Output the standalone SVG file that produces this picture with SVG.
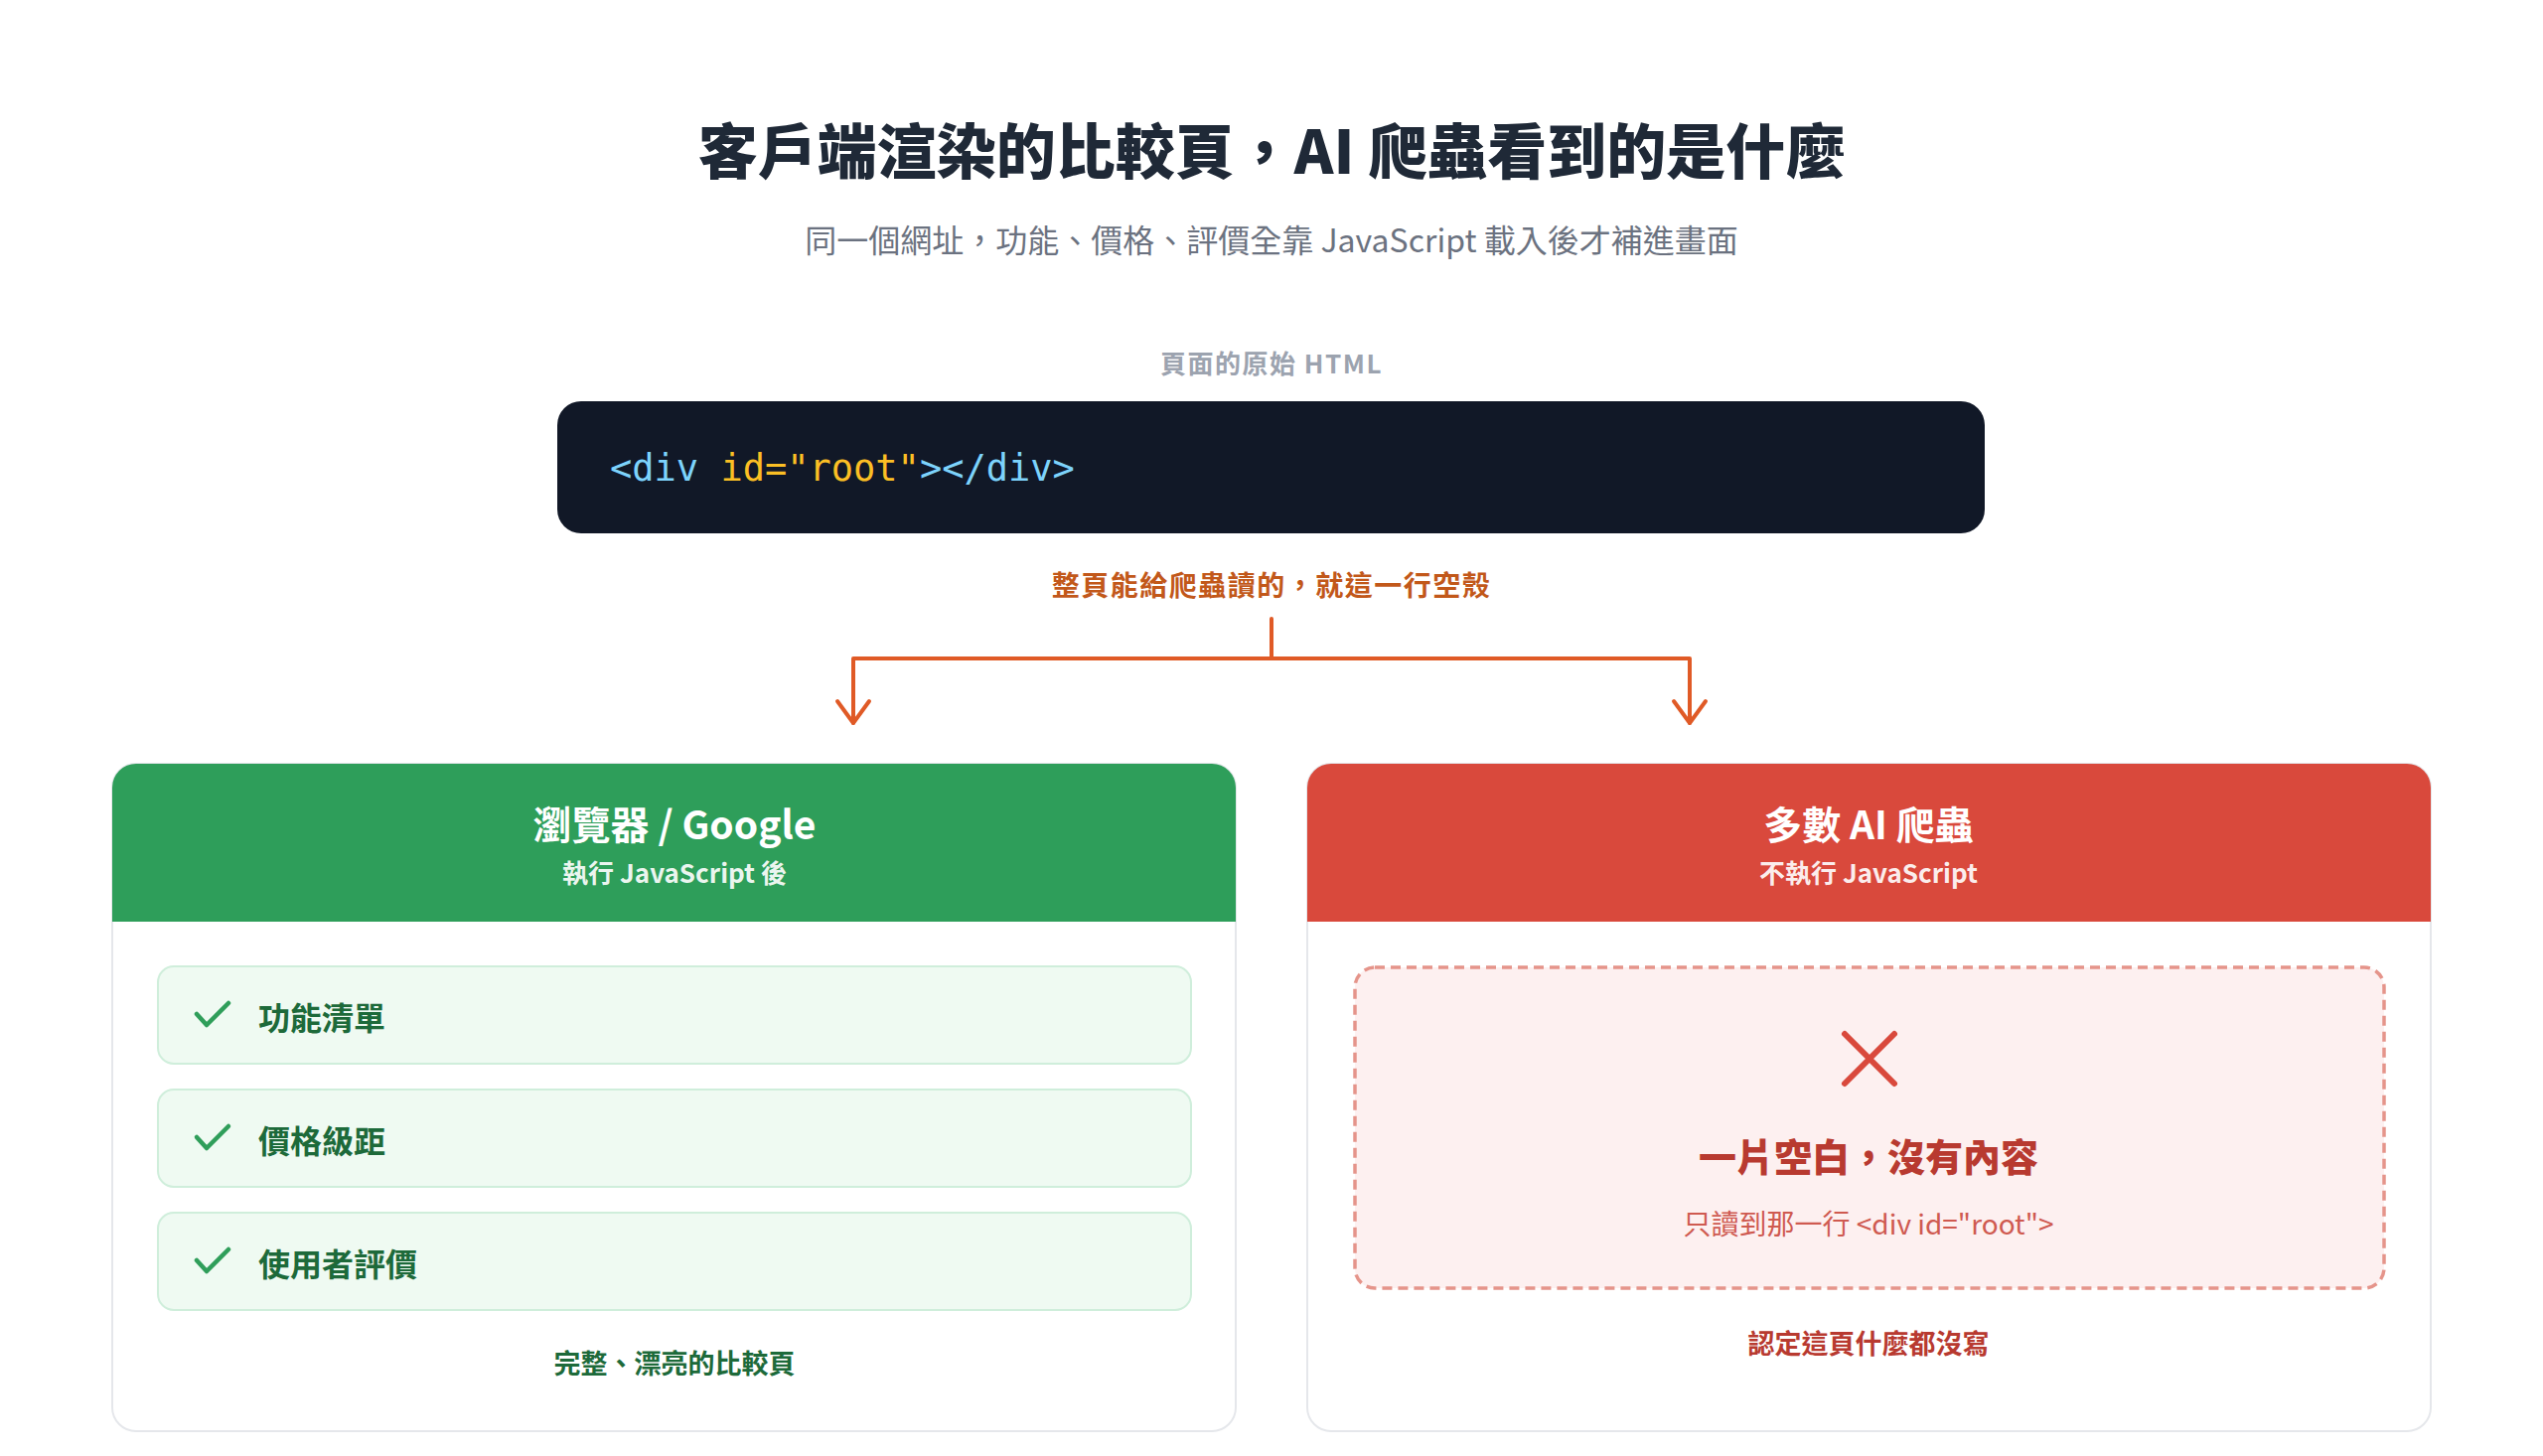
<svg xmlns="http://www.w3.org/2000/svg" width="2560" height="1466" viewBox="0 0 2560 1466">
<style>
text{font-family:"Noto Sans CJK TC","Noto Sans",sans-serif;}
.title{font-size:60px;font-weight:900;fill:#1f2937;text-anchor:middle;}
.sub{font-size:32px;font-weight:400;fill:#6b7280;text-anchor:middle;}
.lbl{font-size:26px;font-weight:700;fill:#9ca3af;text-anchor:middle;letter-spacing:1.5px;}
.code{font-family:"DejaVu Sans Mono","Liberation Mono",monospace;font-size:37px;}
.tag{fill:#7dd3fc;}
.attr{fill:#fbbf24;}
.note{font-size:28px;font-weight:700;fill:#c2581a;text-anchor:middle;letter-spacing:1.5px;}
.card{fill:#ffffff;stroke:#e5e7eb;stroke-width:2;}
.htitle{font-size:39px;font-weight:700;fill:#ffffff;text-anchor:middle;}
.hsub{font-size:26px;font-weight:700;fill:#ffffff;fill-opacity:0.92;text-anchor:middle;}
.item{fill:#effaf2;stroke:#cfeedb;stroke-width:2;}
.itxt{font-size:32px;font-weight:700;fill:#1d6a3a;}
.check{fill:none;stroke:#2f9e5a;stroke-width:4.5;stroke-linecap:round;stroke-linejoin:round;}
.gfoot{font-size:27px;font-weight:700;fill:#1d6a3a;text-anchor:middle;}
.rfoot{font-size:27px;font-weight:700;fill:#b83a30;text-anchor:middle;}
.conn{fill:none;stroke:#e05a26;stroke-width:4;stroke-linecap:round;stroke-linejoin:round;}
</style>
<rect width="2560" height="1466" fill="#ffffff"/>

<g id="header">
<text class="title" x="1280" y="175">客戶端渲染的比較頁，AI 爬蟲看到的是什麼</text>
<text class="sub" x="1280" y="254">同一個網址，功能、價格、評價全靠 JavaScript 載入後才補進畫面</text>
</g>

<g id="html-source">
<text class="lbl" x="1280" y="376">頁面的原始 HTML</text>
<rect x="561" y="404" width="1437" height="133" rx="24" fill="#111827"/>
<text class="code" x="614" y="484"><tspan class="tag">&lt;div</tspan><tspan class="attr"> id="root"</tspan><tspan class="tag">&gt;&lt;/div&gt;</tspan></text>
<text class="note" x="1280" y="600">整頁能給爬蟲讀的，就這一行空殼</text>
</g>

<g id="connectors">
<path class="conn" d="M1280 623 V663 M859 663 H1701 M859 663 V728 M1701 663 V728"/>
<path class="conn" d="M843 706 L859 728 L875 706"/>
<path class="conn" d="M1685 706 L1701 728 L1717 706"/>
</g>

<g id="browser-card">
<rect class="card" x="113" y="769" width="1131" height="672" rx="24"/>
<path d="M113 793 A24 24 0 0 1 137 769 H1220 A24 24 0 0 1 1244 793 V928 H113 Z" fill="#2e9e5a"/>
<text class="htitle" x="679" y="845">瀏覽器 / Google</text>
<text class="hsub" x="679" y="889">執行 JavaScript 後</text>
<g id="item-features">
<rect class="item" x="159" y="973" width="1040" height="98" rx="16"/>
<path class="check" d="M198 1021 L208 1032 L230 1010"/>
<text class="itxt" x="260" y="1037">功能清單</text>
</g>
<g id="item-price">
<rect class="item" x="159" y="1097" width="1040" height="98" rx="16"/>
<path class="check" d="M198 1145 L208 1156 L230 1134"/>
<text class="itxt" x="260" y="1161">價格級距</text>
</g>
<g id="item-reviews">
<rect class="item" x="159" y="1221" width="1040" height="98" rx="16"/>
<path class="check" d="M198 1269 L208 1280 L230 1258"/>
<text class="itxt" x="260" y="1285">使用者評價</text>
</g>
<text class="gfoot" x="679" y="1383">完整、漂亮的比較頁</text>
</g>

<g id="ai-card">
<rect class="card" x="1316" y="769" width="1131" height="672" rx="24"/>
<path d="M1316 793 A24 24 0 0 1 1340 769 H2423 A24 24 0 0 1 2447 793 V928 H1316 Z" fill="#d9493c"/>
<text class="htitle" x="1881" y="845">多數 AI 爬蟲</text>
<text class="hsub" x="1881" y="889">不執行 JavaScript</text>
<g id="empty-box">
<rect x="1364" y="974" width="1036" height="323" rx="20" fill="#fdf0f0" stroke="#e5948a" stroke-width="3.5" stroke-dasharray="10 6"/>
<path d="M1857 1041 L1907 1091 M1907 1041 L1857 1091" fill="none" stroke="#d9493c" stroke-width="6" stroke-linecap="round"/>
<text x="1881" y="1179" font-size="38" font-weight="900" fill="#b83a30" text-anchor="middle">一片空白，沒有內容</text>
<text x="1881" y="1243" font-size="28" font-weight="400" fill="#cf5a50" text-anchor="middle">只讀到那一行 &lt;div id="root"&gt;</text>
</g>
<text class="rfoot" x="1881" y="1363">認定這頁什麼都沒寫</text>
</g>
</svg>
